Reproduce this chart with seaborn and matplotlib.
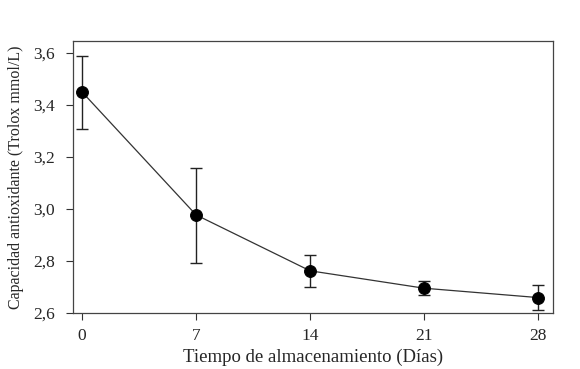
import matplotlib
matplotlib.use("Agg")
import matplotlib.pyplot as plt
import seaborn as sns
import pandas as pd
from matplotlib.ticker import FuncFormatter

# Data
dias = [0, 7, 14, 21, 28]
capacidad = [3.45, 2.977, 2.762, 2.695, 2.659]
err_sup = [3.59, 3.159, 2.823, 2.723, 2.706]
err_inf = [3.308, 2.793, 2.700, 2.668, 2.612]

df = pd.DataFrame({"dias": dias, "capacidad": capacidad})
yerr = [[c - lo for c, lo in zip(capacidad, err_inf)],
        [hi - c for c, hi in zip(capacidad, err_sup)]]

sns.set_style("ticks")
plt.rcParams["font.family"] = ["Liberation Serif", "DejaVu Serif"]

fig = plt.figure(figsize=(5.8, 3.69), dpi=100)
ax = fig.add_axes([0.126, 0.152, 0.827, 0.737])

ax.errorbar(dias, capacidad, yerr=yerr, fmt="none", ecolor="#222222",
            elinewidth=1.0, capsize=4.5, capthick=1.0, zorder=2)
sns.lineplot(data=df, x="dias", y="capacidad", ax=ax, color="#333333",
             linewidth=0.9, marker="o", markersize=8.5,
             markerfacecolor="black", markeredgecolor="black", zorder=3)

ax.set_xlim(-0.55, 28.9)
ax.set_ylim(2.6, 3.646)
ax.set_xticks(dias)
ax.set_yticks([2.6, 2.8, 3.0, 3.2, 3.4, 3.6])
ax.yaxis.set_major_formatter(FuncFormatter(lambda v, p: f"{v:.1f}".replace(".", ",")))

ax.set_xlabel("Tiempo de almacenamiento (Días)", fontsize=13.5, labelpad=3)
ax.set_ylabel("Capacidad antioxidante (Trolox mmol/L)", fontsize=11.5, labelpad=7)
ax.tick_params(axis="both", labelsize=12.5, direction="out", length=5,
               width=0.8, color="#333333")
ax.tick_params(axis="y", pad=8)
ax.tick_params(axis="x", pad=6)
for s in ax.spines.values():
    s.set_linewidth(0.9)
    s.set_color("#444444")

fig.savefig("out.png", dpi=100)
